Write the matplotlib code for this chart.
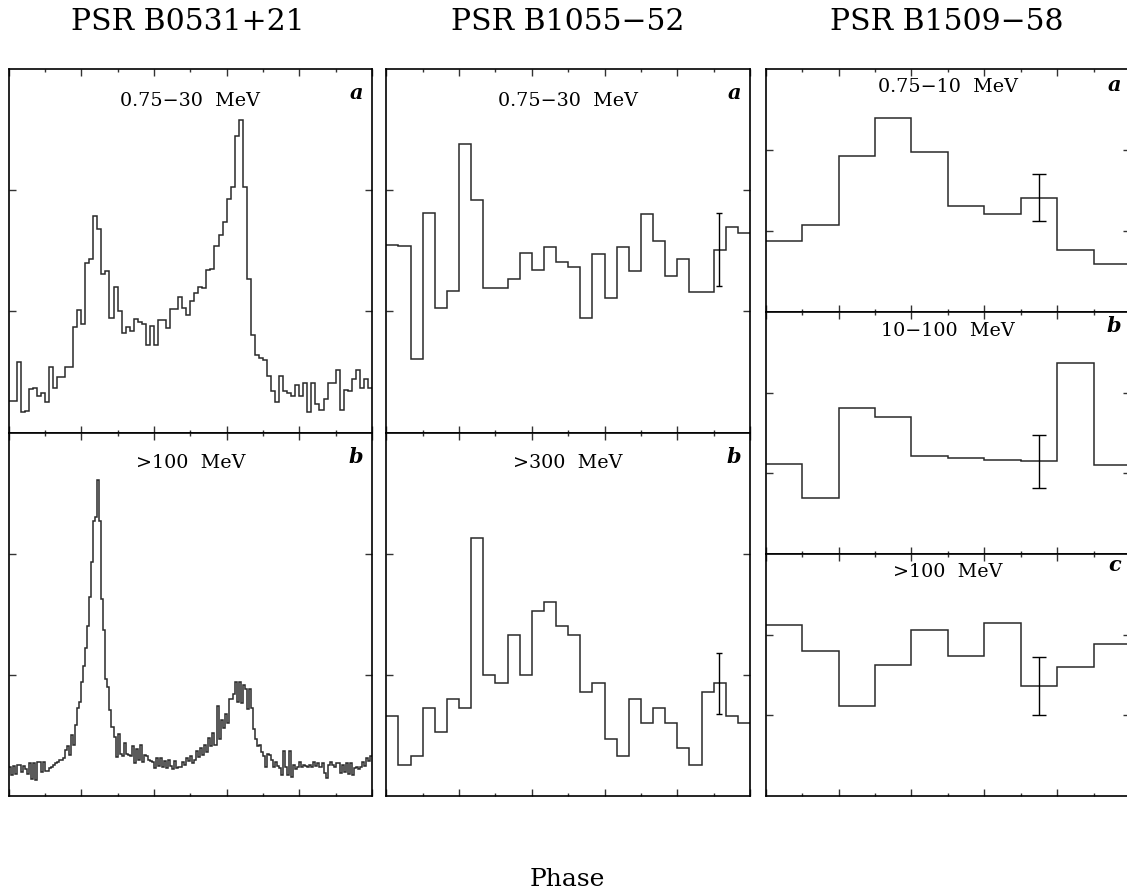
import numpy as np
import matplotlib.pyplot as plt
from matplotlib.ticker import MultipleLocator

# light curves (y units: axis runs 0..3, ticks at 1 and 2)
crab_low = [0.26, 0.26, 0.58, 0.17, 0.18, 0.36, 0.37, 0.30, 0.33, 0.25,
            0.54, 0.37, 0.46, 0.46, 0.54, 0.54, 0.87, 1.01, 0.90, 1.40,
            1.43, 1.79, 1.68, 1.31, 1.33, 0.95, 1.20, 1.00, 0.82, 0.87,
            0.84, 0.94, 0.91, 0.90, 0.72, 0.88, 0.72, 0.93, 0.93, 0.86,
            1.02, 1.02, 1.12, 1.03, 0.97, 1.09, 1.15, 1.20, 1.19, 1.34,
            1.35, 1.54, 1.63, 1.74, 1.93, 2.03, 2.45, 2.58, 2.03, 1.27,
            0.81, 0.64, 0.62, 0.60, 0.47, 0.34, 0.25, 0.47, 0.34, 0.33,
            0.30, 0.39, 0.30, 0.41, 0.17, 0.41, 0.24, 0.19, 0.28, 0.41,
            0.41, 0.52, 0.19, 0.35, 0.34, 0.44, 0.52, 0.37, 0.44, 0.37]

crab_high = [0.24, 0.17, 0.25, 0.18, 0.26, 0.26, 0.20, 0.25, 0.22, 0.18,
             0.27, 0.14, 0.27, 0.13, 0.28, 0.28, 0.20, 0.28, 0.21, 0.21,
             0.23, 0.24, 0.26, 0.27, 0.28, 0.30, 0.30, 0.31, 0.38, 0.41,
             0.34, 0.50, 0.42, 0.59, 0.73, 0.78, 0.94, 1.07, 1.22, 1.40,
             1.64, 1.93, 2.27, 2.30, 2.61, 2.27, 1.63, 1.37, 0.97, 0.90,
             0.71, 0.57, 0.49, 0.32, 0.51, 0.35, 0.33, 0.44, 0.35, 0.34,
             0.33, 0.41, 0.27, 0.39, 0.30, 0.42, 0.28, 0.34, 0.33, 0.30,
             0.29, 0.28, 0.23, 0.31, 0.25, 0.31, 0.24, 0.29, 0.23, 0.30,
             0.25, 0.22, 0.29, 0.23, 0.24, 0.24, 0.28, 0.26, 0.31, 0.29,
             0.33, 0.27, 0.30, 0.37, 0.32, 0.40, 0.34, 0.42, 0.36, 0.48,
             0.41, 0.52, 0.42, 0.74, 0.47, 0.63, 0.56, 0.68, 0.60, 0.80,
             0.80, 0.84, 0.94, 0.78, 0.94, 0.77, 0.92, 0.88, 0.72, 0.88,
             0.73, 0.55, 0.47, 0.41, 0.42, 0.36, 0.33, 0.24, 0.35, 0.34,
             0.30, 0.24, 0.28, 0.25, 0.23, 0.17, 0.37, 0.24, 0.17, 0.37,
             0.16, 0.26, 0.22, 0.24, 0.28, 0.24, 0.26, 0.25, 0.24, 0.26,
             0.24, 0.28, 0.25, 0.27, 0.24, 0.27, 0.19, 0.15, 0.26, 0.28,
             0.26, 0.24, 0.27, 0.27, 0.19, 0.26, 0.20, 0.27, 0.18, 0.27,
             0.17, 0.23, 0.24, 0.22, 0.24, 0.28, 0.25, 0.31, 0.29, 0.33]

b1055_low = [1.55, 1.54, 0.61, 1.81, 1.03, 1.17, 2.38, 1.92, 1.19, 1.19,
             1.27, 1.48, 1.34, 1.53, 1.41, 1.37, 0.95, 1.47, 1.11, 1.53,
             1.33, 1.80, 1.58, 1.29, 1.43, 1.16, 1.16, 1.51, 1.70, 1.65]

b1055_high = [0.66, 0.26, 0.33, 0.73, 0.53, 0.80, 0.73, 2.13, 1.00, 0.93,
              1.33, 1.00, 1.53, 1.60, 1.40, 1.33, 0.86, 0.93, 0.47, 0.33,
              0.80, 0.60, 0.73, 0.60, 0.40, 0.26, 0.86, 0.93, 0.66, 0.60]

b1509_a = [0.88, 1.08, 1.93, 2.40, 1.97, 1.31, 1.21, 1.41, 0.76, 0.59]
b1509_b = [1.12, 0.70, 1.81, 1.70, 1.21, 1.19, 1.17, 1.15, 2.37, 1.10]
b1509_c = [2.12, 1.80, 1.11, 1.62, 2.06, 1.74, 2.15, 1.36, 1.60, 1.89]

# one representative error bar per panel: (phase, value, half-size)
b1055_low_err = (0.915, 1.51, 0.30)
b1055_high_err = (0.915, 0.93, 0.25)
b1509_a_err = (0.75, 1.41, 0.29)
b1509_b_err = (0.75, 1.15, 0.33)
b1509_c_err = (0.75, 1.36, 0.36)

pulsars = ['PSR B0531+21', 'PSR B1055\u221252', 'PSR B1509\u221258']

plt.rcParams['font.family'] = 'DejaVu Serif'
fig = plt.figure(figsize=(11.27, 8.93), dpi=100)

W, H = 1127.0, 893.0


def make_ax(x0, x1, y0, y1):
    # pixel box (top-left origin) -> figure axes
    ax = fig.add_axes([x0 / W, 1 - y1 / H, (x1 - x0) / W, (y1 - y0) / H])
    ax.set_xlim(0, 1)
    ax.set_ylim(0, 3)
    ax.xaxis.set_major_locator(MultipleLocator(0.2))
    ax.xaxis.set_minor_locator(MultipleLocator(0.1))
    ax.set_yticks([1, 2])
    ax.tick_params(which='both', direction='in', top=True, right=True,
                   labelbottom=False, labelleft=False, width=1.0, color='#333333')
    ax.tick_params(which='major', length=5)
    ax.tick_params(which='minor', length=2.5)
    for s in ax.spines.values():
        s.set_linewidth(1.2)
    return ax


def draw(ax, vals, energy, letter, ey, ly, err=None, cap=2):
    edges = np.linspace(0, 1, len(vals) + 1)
    ax.stairs(vals, edges, baseline=None, color='#2a2a2a', lw=1.1)
    if err is not None:
        ax.errorbar(err[0], err[1], yerr=err[2], color='black', lw=1.0,
                    capsize=cap, capthick=1.0)
    ax.text(0.5, ey, energy, transform=ax.transAxes, ha='center', va='center',
            fontsize=13.8)
    ax.text(0.975, ly, letter, transform=ax.transAxes, ha='right', va='center',
            fontsize=15, style='italic', fontweight='bold')


# column 1
ax = make_ax(8.5, 372, 69, 432.7)
draw(ax, crab_low, '0.75\u221230  MeV', 'a', 0.912, 0.934)
ax = make_ax(8.5, 372, 432.7, 796)
draw(ax, crab_high, '>100  MeV', 'b', 0.917, 0.933)

# column 2
ax = make_ax(386.3, 750, 69, 432.7)
draw(ax, b1055_low, '0.75\u221230  MeV', 'a', 0.912, 0.934, b1055_low_err, 2)
ax = make_ax(386.3, 750, 432.7, 796)
draw(ax, b1055_high, '>300  MeV', 'b', 0.917, 0.933, b1055_high_err, 2)

# column 3
ax = make_ax(765.7, 1130, 69, 312)
draw(ax, b1509_a, '0.75\u221210  MeV', 'a', 0.927, 0.934, b1509_a_err, 5)
ax = make_ax(765.7, 1130, 312, 554)
draw(ax, b1509_b, '10\u2212100  MeV', 'b', 0.92, 0.944, b1509_b_err, 5)
ax = make_ax(765.7, 1130, 554, 796)
draw(ax, b1509_c, '>100  MeV', 'c', 0.927, 0.955, b1509_c_err, 5)

for cx, name in zip([188, 568, 947], pulsars):
    fig.text(cx / W, 1 - 22 / H, name, ha='center', va='center', fontsize=21.5)

fig.text(567 / W, 1 - 880 / H, 'Phase', ha='center', va='center', fontsize=18)

fig.savefig('out.png', dpi=100)
